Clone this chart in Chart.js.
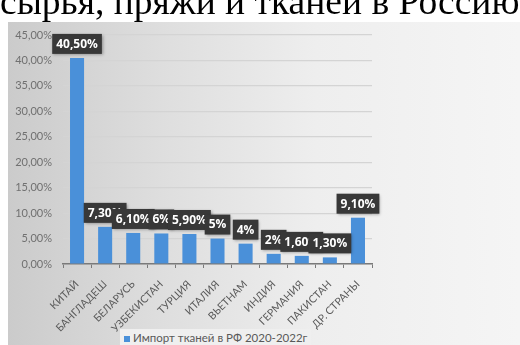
<!DOCTYPE html>
<html lang="ru">
<head>
<meta charset="UTF-8" />
<title>Импорт тканей</title>
<style>
  html, body { margin: 0; padding: 0; background: #fff; }
  #wrap { position: relative; width: 520px; height: 345px; overflow: hidden; }
  #head {
    position: absolute; left: 0px; top: -19px; white-space: nowrap;
    font-family: "Liberation Serif", serif; font-size: 37.5px; color: #000;
    line-height: 42px;
  }
  #bg {
    position: absolute; left: 8px; top: 22px; right: 0; bottom: 0;
    background: linear-gradient(to right, #cbcbcb 0%, #dedede 30%, #eeeeee 60%, #f5f5f5 100%);
  }
  #chartBox { position: absolute; left: 0; top: 0; width: 520px; height: 345px; }
  #legend {
    position: absolute; left: 120px; top: 329px; height: 16px; padding: 0 4px 0 4px;
    background: #efefef; font-family: Lato, sans-serif; font-size: 11.5px;
    color: #595959; line-height: 17px; white-space: nowrap;
  }
  #legend span { display: inline-block; width: 6px; height: 6px; background: #4a90d9; margin-right: 3px; }
</style>
</head>
<body>
<div id="wrap">
  <div id="bg"></div>
  <div id="chartBox"><canvas id="myChart" width="520" height="345"></canvas></div>
  <div id="head">сырья, пряжи и тканей в Россию</div>
  <div id="legend"><span></span><b style="font-weight:normal" id="legendText"></b></div>
</div>
<script src="https://cdn.jsdelivr.net/npm/chart.js@4.4.1/dist/chart.umd.min.js"></script>
<script>
  const countries = ["КИТАЙ", "БАНГЛАДЕШ", "БЕЛАРУСЬ", "УЗБЕКИСТАН", "ТУРЦИЯ", "ИТАЛИЯ",
    "ВЬЕТНАМ", "ИНДИЯ", "ГЕРМАНИЯ", "ПАКИСТАН", "ДР. СТРАНЫ"];
  const shares = [40.5, 7.3, 6.1, 6, 5.9, 5, 4, 2, 1.6, 1.3, 9.1];
  const valueLabels = ["40,50%", "7,30%", "6,10%", "6%", "5,90%", "5%", "4%", "2%", "1,60%", "1,30%", "9,10%"];
  const seriesName = "Импорт тканей в РФ 2020-2022г";

  document.getElementById("legendText").textContent = seriesName;

  // dark boxes with white value text above each bar
  const boxLabels = {
    id: "boxLabels",
    afterDatasetsDraw(chart) {
      const c = chart.ctx;
      const meta = chart.getDatasetMeta(0);
      c.save();
      c.font = "bold 12px 'Open Sans', sans-serif";
      c.textAlign = "center";
      c.textBaseline = "middle";
      meta.data.forEach((bar, i) => {
        const txt = valueLabels[i];
        const w = c.measureText(txt).width + 8;
        const h = 20;
        const x = bar.x - w / 2;
        const y = bar.y - 4 - h;
        c.shadowColor = "rgba(0,0,0,0.35)";
        c.shadowBlur = 3;
        c.shadowOffsetX = 1;
        c.shadowOffsetY = 1;
        c.fillStyle = "#383838";
        c.fillRect(x, y, w, h);
        c.shadowColor = "transparent";
        c.fillStyle = "#ffffff";
        c.fillText(txt, bar.x, y + h / 2 + 0.5);
      });
      c.restore();
    }
  };

  const ctx = document.getElementById("myChart").getContext("2d");
  const myChart = new Chart(ctx, {
    type: "bar",
    data: {
      labels: countries,
      datasets: [{
        label: seriesName,
        data: shares,
        backgroundColor: "#4a90d9",
        barPercentage: 0.5,
        categoryPercentage: 1
      }]
    },
    options: {
      responsive: false,
      animation: false,
      layout: { padding: { left: 8, right: 148, top: 35, bottom: 0 } },
      plugins: {
        legend: { display: false },
        tooltip: { enabled: false }
      },
      scales: {
        x: {
          afterFit: (s) => { s.height = 81; },
          grid: { drawOnChartArea: false, tickLength: 4, color: "#7a7a7a", offset: true },
          border: { color: "#7a7a7a", width: 1.5 },
          ticks: {
            minRotation: 45, maxRotation: 45, color: "#5a5a5a", padding: 10,
            font: { family: "Lato, sans-serif", size: 10.5 }
          }
        },
        y: {
          min: 0, max: 45,
          afterFit: (s) => { s.width = 55; },
          grid: { color: "#d4d4d4", drawTicks: false, lineWidth: 1.2 },
          border: { display: false },
          ticks: {
            stepSize: 5, color: "#707070", padding: 11,
            font: { family: "Lato, sans-serif", size: 11 },
            callback: (v) => v.toFixed(2).replace(".", ",") + "%"
          }
        }
      }
    },
    plugins: [boxLabels]
  });
</script>
</body>
</html>
